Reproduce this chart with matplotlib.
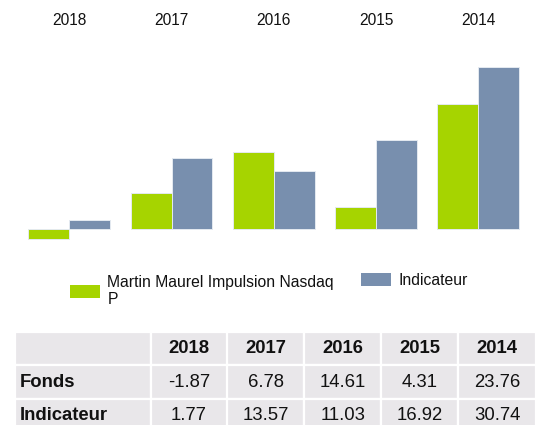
import matplotlib.pyplot as plt
from matplotlib.patches import Patch
import numpy as np

plt.rcParams['font.family'] = ['Liberation Sans', 'DejaVu Sans']

# données
annees = ['2018', '2017', '2016', '2015', '2014']
fonds = [-1.87, 6.78, 14.61, 4.31, 23.76]
indicateur = [1.77, 13.57, 11.03, 16.92, 30.74]
nom_fonds = 'Martin Maurel Impulsion Nasdaq\nP'
nom_indic = 'Indicateur'
lignes_tableau = ['Fonds', 'Indicateur']

VERT = '#A6D400'
BLEU = '#788FAE'
GRIS = '#E9E7EA'

fig = plt.figure(figsize=(5.37, 4.25), dpi=100)

# graphique en barres
ax = fig.add_axes([0.0148, 0.4231, 0.990, 0.448])
x = np.arange(len(annees))
w = 0.40
ax.bar(x - w / 2, fonds, width=w, color=VERT, edgecolor='#E4EAF0', linewidth=0.7)
ax.bar(x + w / 2, indicateur, width=w, color=BLEU, edgecolor='#E4EAF0', linewidth=0.7)
ax.set_xlim(-0.6, 4.6)
ax.set_ylim(-3, 33)
ax.axis('off')

# années au-dessus
for i, a in enumerate(annees):
    ax.text(i, 1.18, a, transform=ax.get_xaxis_transform(),
            ha='center', va='center', fontsize=11.2, color='#111111')

# légendes
leg1 = fig.legend(handles=[Patch(facecolor=VERT, edgecolor='none', label=nom_fonds)],
                  loc='center left', bbox_to_anchor=(0.13, 0.315), frameon=False,
                  fontsize=11.3, handlelength=1.9, handleheight=0.87,
                  handletextpad=0.5, borderpad=0, borderaxespad=0)
leg2 = fig.legend(handles=[Patch(facecolor=BLEU, edgecolor='none', label=nom_indic)],
                  loc='center left', bbox_to_anchor=(0.672, 0.34), frameon=False,
                  fontsize=11.3, handlelength=1.9, handleheight=0.87,
                  handletextpad=0.5, borderpad=0, borderaxespad=0)
for t in leg1.get_texts() + leg2.get_texts():
    t.set_color('#111111')

# tableau
axt = fig.add_axes([14.5 / 537, -0.0165, 521 / 537, 0.2353])
axt.axis('off')
cellules = [[''] + annees]
cellules.append([lignes_tableau[0]] + [f'{v:.2f}' for v in fonds])
cellules.append([lignes_tableau[1]] + [f'{v:.2f}' for v in indicateur])
larg = [136] + [77] * 5
larg = [l / sum(larg) for l in larg]
tab = axt.table(cellText=cellules, colWidths=larg, bbox=[0, 0, 1, 1],
                cellLoc='center')
tab.auto_set_font_size(False)
tab.set_fontsize(13.3)
for (r, c), cell in tab.get_celld().items():
    cell.set_facecolor(GRIS)
    cell.set_edgecolor('white')
    cell.set_linewidth(1.6)
    cell.get_text().set_color('#111111')
    if r == 0 or c == 0:
        cell.get_text().set_fontweight('bold')
    if c == 0:
        cell.PAD = 0.04
        cell.get_text().set_ha('left')
        cell._loc = 'left'

fig.savefig('out.png', dpi=100)
